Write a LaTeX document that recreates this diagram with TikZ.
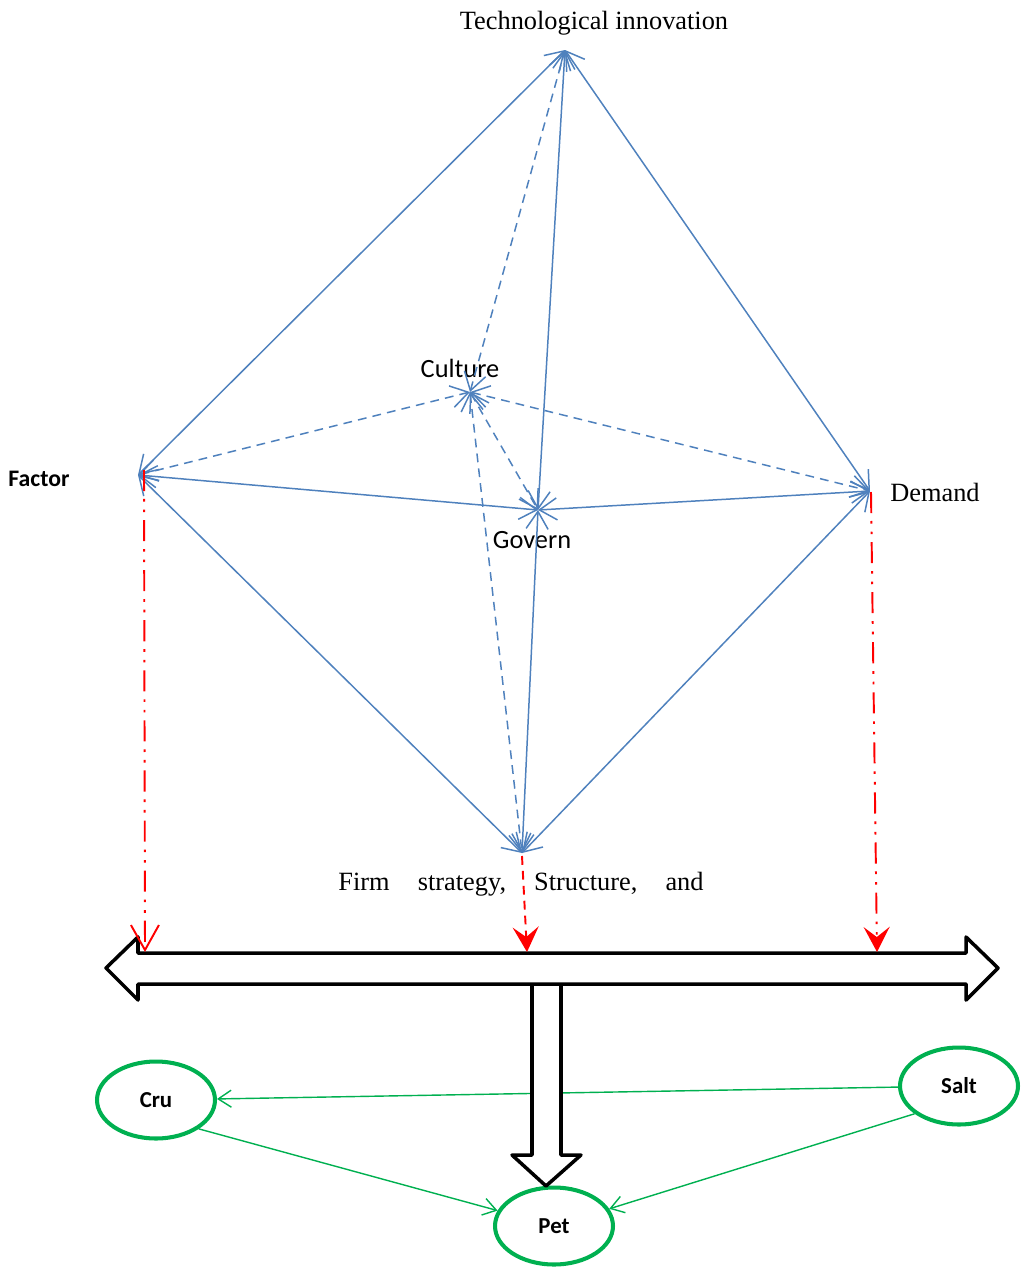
\documentclass[tikz,border=0pt]{standalone}
\usepackage{fontspec}
\setmainfont{Liberation Serif}
\newfontfamily\calibri{Carlito}
\usetikzlibrary{arrows.meta,shapes.geometric}
\definecolor{lineblue}{RGB}{79,129,189}
\definecolor{ovalgreen}{RGB}{0,176,80}

\begin{document}
\begin{tikzpicture}[x=0.02cm,y=-0.02cm,
solidlink/.style={lineblue,line width=0.85pt,{Straight Barb[length=3.5mm,width=4.4mm]}-{Straight Barb[length=3.5mm,width=4.4mm]}},
dashlink/.style={solidlink,dash pattern=on 5pt off 3.5pt},
redlink/.style={red,line width=1.1pt,dash pattern=on 12pt off 4.5pt on 1.5pt off 4.5pt on 1.5pt off 4.5pt},
reddash/.style={red,line width=1.1pt,dash pattern=on 5pt off 3.5pt},
oval/.style={ellipse,draw=ovalgreen,line width=2.3pt,minimum width=2.36cm,minimum height=1.54cm,font=\calibri\bfseries\fontsize{13}{15}\selectfont},
greenlink/.style={ovalgreen,line width=0.8pt,-{Straight Barb[length=2.6mm,width=3.4mm]}},
serif/.style={font=\fontsize{15}{18}\selectfont},
sans/.style={font=\calibri\fontsize{15}{18}\selectfont}
]
\useasboundingbox (0,0) rectangle (1029,1268);

\coordinate (tech) at (565,50);
\coordinate (cult) at (470,392);
\coordinate (gov) at (538,510);
\coordinate (fac) at (138,475);
\coordinate (dem) at (870,491);
\coordinate (firmpt) at (522,853);

\node[serif] (techlabel) at (594,23) {Technological innovation};
\node[sans] (cultlabel) at (460,368) {Culture};
\node[sans] (govlabel) at (532,540) {Govern};
\node[font=\calibri\bfseries\fontsize{13.5}{16}\selectfont] (faclabel) at (39,479) {Factor};
\node[serif] (demlabel) at (935,492) {Demand};
\node[serif] (firmlabel) at (521,884) {Firm\hspace{16pt}strategy,\hspace{16pt}Structure,\hspace{16pt}and};

\draw[solidlink] (fac) -- (tech);
\draw[solidlink] (tech) -- (dem);
\draw[solidlink] (tech) -- (gov);
\draw[solidlink] (fac) -- (gov);
\draw[solidlink] (gov) -- (dem);
\draw[solidlink] (gov) -- (firmpt);
\draw[solidlink] (fac) -- (firmpt);
\draw[solidlink] (dem) -- (firmpt);
\draw[dashlink] (cult) -- (tech);
\draw[dashlink] (cult) -- (fac);
\draw[dashlink] (cult) -- (dem);
\draw[dashlink] (cult) -- (gov);
\draw[dashlink] (cult) -- (firmpt);

\node[oval] (cru) at (156,1100) {Cru};
\node[oval] (salt) at (959,1086) {Salt};
\node[oval] (pet) at (554,1226) {Pet};
\draw[greenlink] (salt) -- (cru);
\draw[greenlink] (cru.-34) -- (pet);
\draw[greenlink] (salt.212) -- (pet);

\filldraw[fill=white,line width=2pt,line join=round] (532,984) -- (532,1155) -- (512,1155) -- (546,1186) -- (581,1155) -- (561,1155) -- (561,984);
\filldraw[fill=white,line width=2pt,line join=round] (106,968) -- (138,937) -- (138,953) -- (966,953) -- (966,937) -- (998,968) -- (966,1000) -- (966,984) -- (138,984) -- (138,1000) -- cycle;

\coordinate (factop) at (144,470);
\coordinate (facbot) at (145,952);
\coordinate (demtop) at (871,492);
\coordinate (dembot) at (877,952);
\coordinate (firmtop) at (522,856);
\coordinate (firmbot) at (527,952);
\draw[redlink,-{Straight Barb[length=5mm,width=5.6mm]}] (factop) -- (facbot);
\draw[redlink,-{Stealth[length=5mm,width=5.2mm,inset=2mm]}] (demtop) -- (dembot);
\draw[reddash,-{Stealth[length=5mm,width=5.2mm,inset=2mm]}] (firmtop) -- (firmbot);
\end{tikzpicture}
\end{document}
